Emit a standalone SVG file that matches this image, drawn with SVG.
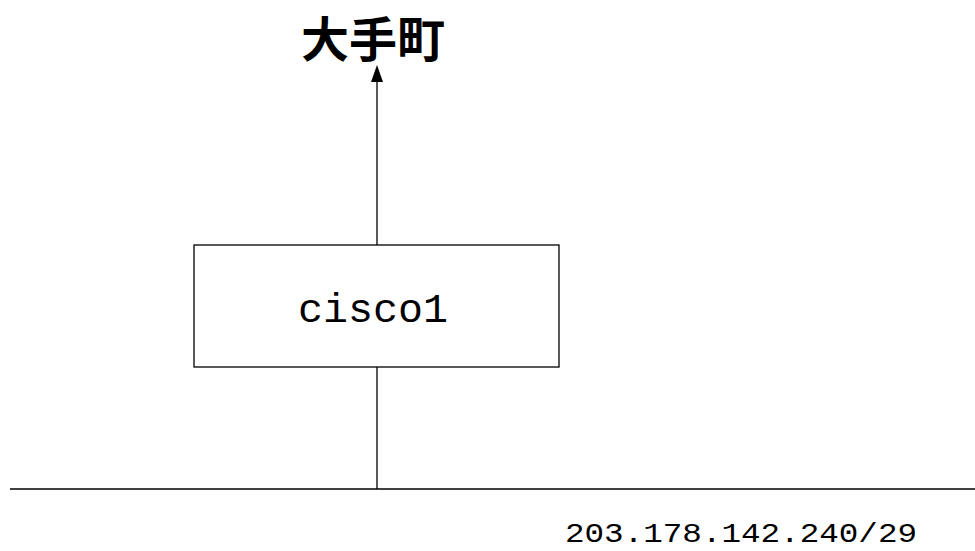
<svg xmlns="http://www.w3.org/2000/svg" width="975" height="551" viewBox="0 0 975 551">
<style>
.ln{stroke:#000;stroke-width:1.3;fill:none}
.box{fill:#fff;stroke:#000;stroke-width:1.3}
.mono{font-family:"Liberation Mono","DejaVu Sans Mono",monospace;fill:#000}
.jp{font-family:"Noto Sans CJK JP",sans-serif;font-weight:bold;fill:#000}
.head{fill:#000}
</style>
<rect width="975" height="551" fill="#fff"/>
<g id="connectors">
<line class="ln" x1="10" y1="489" x2="975" y2="489"/>
<line class="ln" x1="377" y1="367" x2="377" y2="489"/>
<line class="ln" x1="377" y1="245" x2="377" y2="80"/>
<polygon class="head" points="377,65 371,82 383,82"/>
</g>
<g id="title">
<text class="jp" x="373" y="57" font-size="48" text-anchor="middle">大手町</text>
</g>
<g id="cisco1">
<rect class="box" x="194" y="245" width="365" height="122"/>
<text class="mono" x="298" y="322" font-size="40" textLength="150" lengthAdjust="spacingAndGlyphs">cisco1</text>
</g>
<g id="network">
<text class="mono" x="565" y="542" font-size="28" textLength="352" lengthAdjust="spacingAndGlyphs">203.178.142.240/29</text>
</g>
</svg>
